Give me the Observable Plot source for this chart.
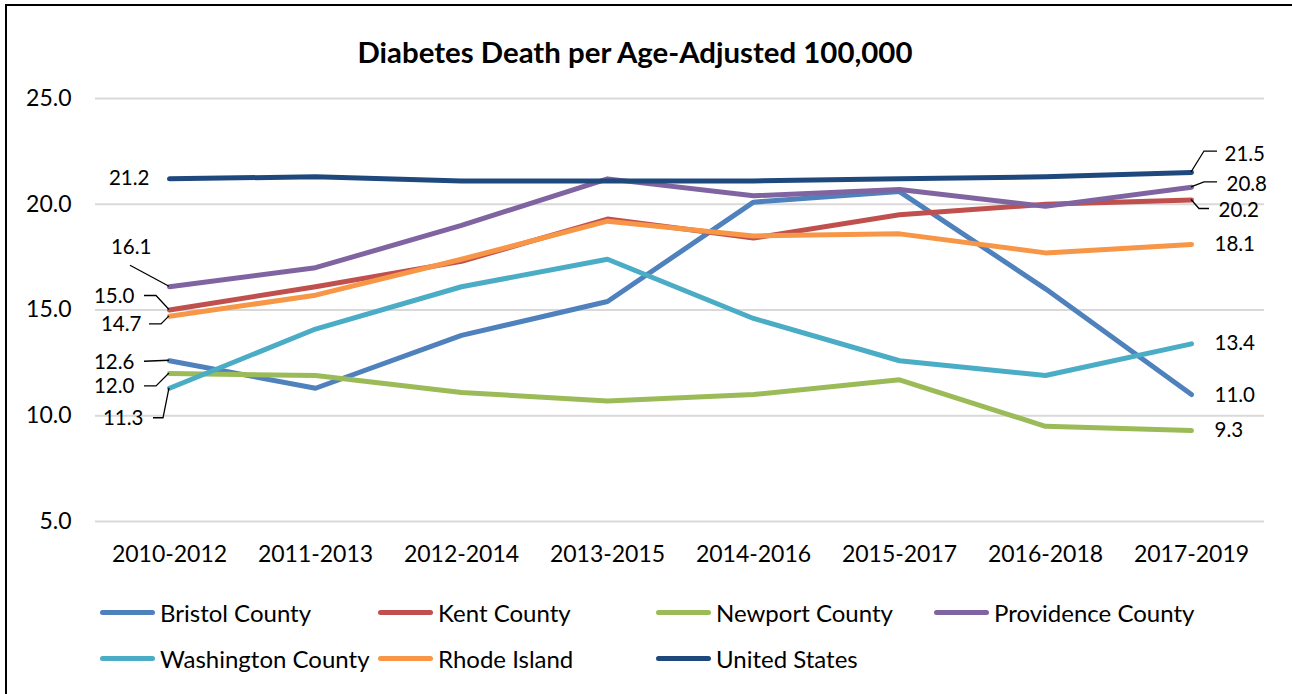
<!DOCTYPE html>
<html>
<head>
<meta charset="utf-8">
<script src="https://cdn.jsdelivr.net/npm/d3@7"></script>
<script src="https://cdn.jsdelivr.net/npm/@observablehq/plot@0.6"></script>
<style>
  html, body { margin: 0; padding: 0; background: #fff; }
  body { width: 1292px; height: 694px; position: relative; overflow: hidden; font-family: Lato, "Open Sans", sans-serif; color: #000; }
  #frame { position: absolute; left: 5px; top: 4px; width: 1300px; height: 720px; border-top: 2px solid #000; border-left: 2px solid #000; }
  #title { position: absolute; left: 0; top: 34px; width: 1270px; text-align: center; font-weight: 700; font-size: 29.4px; line-height: 36px; }
  #chart { position: absolute; left: 0; top: 0; }
  #legend { position: absolute; left: 100px; top: 589px; width: 1180px; }
  .lrow { height: 46px; display: flex; align-items: center; }
  .litem { width: 278px; display: flex; align-items: center; font-size: 24px; white-space: nowrap; }
  .lswatch { width: 55px; height: 5px; border-radius: 3px; margin-right: 5px; flex: none; }
</style>
</head>
<body>
<div id="frame"></div>
<div id="title">Diabetes Death per Age-Adjusted 100,000</div>
<div id="chart"></div>
<div id="legend"></div>
<script>
// ---- data ----
const periods = ["2010-2012", "2011-2013", "2012-2014", "2013-2015", "2014-2016", "2015-2017", "2016-2018", "2017-2019"];
const seriesNames = ["Bristol County", "Kent County", "Newport County", "Providence County", "Washington County", "Rhode Island", "United States"];
const bristol    = [12.6, 11.3, 13.8, 15.4, 20.1, 20.6, 16.0, 11.0];
const kent       = [15.0, 16.1, 17.3, 19.3, 18.4, 19.5, 20.0, 20.2];
const newport    = [12.0, 11.9, 11.1, 10.7, 11.0, 11.7, 9.5, 9.3];
const providence = [16.1, 17.0, 19.0, 21.2, 20.4, 20.7, 19.9, 20.8];
const washington = [11.3, 14.1, 16.1, 17.4, 14.6, 12.6, 11.9, 13.4];
const rhodeIsland= [14.7, 15.7, 17.4, 19.2, 18.5, 18.6, 17.7, 18.1];
const unitedStates = [21.2, 21.3, 21.1, 21.1, 21.1, 21.2, 21.3, 21.5];
const yTicks = [5, 10, 15, 20, 25];

// ---- styles ----
const seriesValues = [bristol, kent, newport, providence, washington, rhodeIsland, unitedStates];
const seriesColors = ["#4f81bd", "#c0504d", "#9bbb59", "#8064a2", "#4bacc6", "#f79646", "#1f497d"];

const rows = [];
seriesNames.forEach((s, i) => periods.forEach((p, j) => rows.push({series: s, period: p, value: seriesValues[i][j]})));

// data labels: series index, point index, pixel offsets, anchor, leader path (pixel offsets from point)
const labelSpecs = [
  {s: 6, p: 0, dx: -20, dy: 0,   anchor: "end"},
  {s: 3, p: 0, dx: -18, dy: -39, anchor: "end",   leader: [[-39, -21], [0, 0]]},
  {s: 1, p: 0, dx: -35, dy: -14, anchor: "end",   leader: [[-25, -14], [-13, -14], [0, 0]]},
  {s: 5, p: 0, dx: -28, dy: 8,   anchor: "end",   leader: [[-20, 8], [-8, 8], [0, 0]]},
  {s: 0, p: 0, dx: -35, dy: 2,   anchor: "end",   leader: [[-25, 1], [0, 0]]},
  {s: 2, p: 0, dx: -35, dy: 13,  anchor: "end",   leader: [[-25, 13], [-13, 13], [0, 0]]},
  {s: 4, p: 0, dx: -26, dy: 30,  anchor: "end",   leader: [[-16, 30], [-6, 30], [0, 0]]},
  {s: 6, p: 7, dx: 33,  dy: -18, anchor: "start", leader: [[0, 0], [13, -21], [26, -21]]},
  {s: 3, p: 7, dx: 35,  dy: -3,  anchor: "start", leader: [[0, 0], [13, -5], [26, -5]]},
  {s: 1, p: 7, dx: 27,  dy: 10,  anchor: "start", leader: [[0, 0], [8, 9], [18, 9]]},
  {s: 5, p: 7, dx: 23,  dy: 0,   anchor: "start"},
  {s: 4, p: 7, dx: 23,  dy: 0,   anchor: "start"},
  {s: 0, p: 7, dx: 23,  dy: 1,   anchor: "start"},
  {s: 2, p: 7, dx: 23,  dy: 0,   anchor: "start"}
];

const labelMarks = labelSpecs.map(l => Plot.text([{period: periods[l.p], value: seriesValues[l.s][l.p]}], {
  x: "period", y: "value", text: d => d.value.toFixed(1),
  dx: l.dx, dy: l.dy, textAnchor: l.anchor, fontSize: 20.5, fill: "#000"
}));

function leaderMark(index, scales, values, dimensions, context) {
  const g = d3.create("svg:g");
  for (const l of labelSpecs) {
    if (!l.leader) continue;
    const x0 = scales.x(periods[l.p]);
    const y0 = scales.y(seriesValues[l.s][l.p]);
    g.append("path")
      .attr("d", "M" + l.leader.map(([ox, oy]) => (x0 + ox) + "," + (y0 + oy)).join("L"))
      .attr("fill", "none").attr("stroke", "#000").attr("stroke-width", 1.3);
  }
  return g.node();
}

const chart = Plot.plot({
  width: 1292,
  height: 580,
  marginLeft: 95,
  marginRight: 28,
  marginTop: 98,
  marginBottom: 59,
  style: {fontFamily: "Lato, 'Open Sans', sans-serif", fontSize: "23px", color: "#000", background: "transparent"},
  x: {type: "point", domain: periods, padding: 0.5, label: null},
  y: {domain: [5, 25], label: null},
  color: {domain: seriesNames, range: seriesColors},
  marks: [
    Plot.ruleY(yTicks, {stroke: "#d9d9d9", strokeWidth: 2}),
    Plot.axisY({ticks: yTicks, tickFormat: d3.format(".1f"), tickSize: 0, tickPadding: 24, label: null, fontSize: 23}),
    Plot.axisX({tickSize: 0, tickPadding: 24, label: null, fontSize: 23}),
    Plot.line(rows, {x: "period", y: "value", z: "series", stroke: "series", strokeWidth: 5, strokeLinecap: "round", strokeLinejoin: "round"}),
    leaderMark,
    ...labelMarks
  ]
});
document.getElementById("chart").appendChild(chart);

// legend
const legend = document.getElementById("legend");
const perRow = [4, 3];
let k = 0;
for (const n of perRow) {
  const row = document.createElement("div");
  row.className = "lrow";
  for (let i = 0; i < n; i++, k++) {
    const item = document.createElement("div");
    item.className = "litem";
    const sw = document.createElement("span");
    sw.className = "lswatch";
    sw.style.background = seriesColors[k];
    item.appendChild(sw);
    item.appendChild(document.createTextNode(seriesNames[k]));
    row.appendChild(item);
  }
  legend.appendChild(row);
}
</script>
</body>
</html>
